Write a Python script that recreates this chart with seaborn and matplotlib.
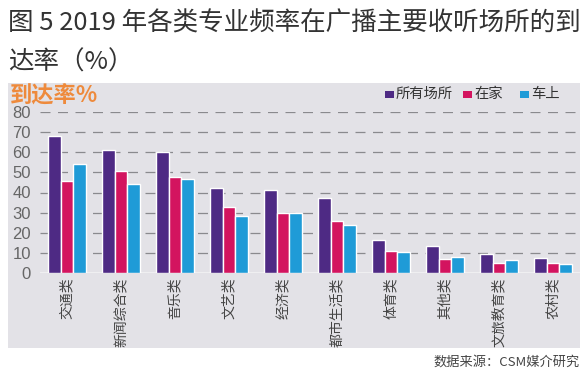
import matplotlib
matplotlib.use("Agg")
import matplotlib.pyplot as plt
import seaborn as sns
import pandas as pd
from matplotlib.patches import Rectangle

categories = ["交通类", "新闻综合类", "音乐类", "文艺类", "经济类", "都市生活类", "体育类", "其他类", "文旅教育类", "农村类"]
series_names = ["所有场所", "在家", "车上"]
all_places = [68.2, 61.2, 60.2, 42.4, 41.0, 37.3, 16.4, 13.6, 9.3, 7.5]
at_home = [45.9, 50.9, 47.9, 33.0, 29.9, 26.0, 11.1, 7.1, 4.8, 5.1]
in_car = [54.2, 44.3, 46.6, 28.5, 30.0, 24.0, 10.4, 8.1, 6.5, 4.6]
yticks = [0, 10, 20, 30, 40, 50, 60, 70, 80]

colors = ["#4E2A84", "#D3145F", "#1F9BD7"]

rows = []
for name, vals in zip(series_names, [all_places, at_home, in_car]):
    for c, v in zip(categories, vals):
        rows.append({"类别": c, "场所": name, "到达率": v})
df = pd.DataFrame(rows)

sns.set_theme(style="white")
plt.rcParams['font.family'] = ['Noto Sans CJK SC', 'DejaVu Sans']

fig = plt.figure(figsize=(5.88, 3.75), dpi=100)
W, H = 588, 375
bg = "#E3E2E7"
fig.patches.append(Rectangle((8 / W, 1 - 348 / H), 572 / W, (348 - 83) / H,
                             transform=fig.transFigure, facecolor=bg, edgecolor="none", zorder=-5))

ax = fig.add_axes([40 / W, 1 - 273 / H, 540 / W, (273 - 112) / H])
ax.set_zorder(2)
ax.set_facecolor("none")
sns.barplot(data=df, x="类别", y="到达率", hue="场所", order=categories, hue_order=series_names,
            palette=colors, width=0.7, gap=0, saturation=1, ax=ax, legend=False, zorder=3)

ax.set_xlim(-0.5, 9.5)
ax.set_ylim(0, 80)
ax.set_yticks(yticks)
ax.set_yticklabels([str(v) for v in yticks], family=["Liberation Sans", "DejaVu Sans"])
for y in yticks[1:]:
    ax.axhline(y, color="#8A8A8E", lw=0.9, ls=(0, (8, 6)), zorder=1)
ax.axhline(0, color="#F2F2F4", lw=1.2, zorder=2)
for s in ax.spines.values():
    s.set_visible(False)
ax.set_xlabel("")
ax.set_ylabel("")
ax.tick_params(axis="y", length=0, pad=6.5, labelsize=12, labelcolor="#666666")
ax.tick_params(axis="x", length=0, pad=3, labelsize=10, labelcolor="#444444")
ax.set_xticks(range(len(categories)))
ax.set_xticklabels(categories, rotation=90, va="top", ha="center")

fig.text(8 / W, 1 - 24 / H, "图 5 2019 年各类专业频率在广播主要收听场所的到", fontsize=18.4,
         color="#333333", va="center", ha="left")
fig.text(8 / W, 1 - 63 / H, "达率（%）", fontsize=18.4, color="#333333", va="center", ha="left")
fig.text(10 / W, 1 - 95 / H, "到达率%", fontsize=16, fontweight="bold", color="#EE8A3C",
         va="center", ha="left", zorder=5)

# legend
leg_items = [(385, "所有场所"), (463, "在家"), (520, "车上")]
for (x, label), col in zip(leg_items, colors):
    fig.patches.append(Rectangle((x / W, 1 - 98 / H), 9 / W, 7 / H, transform=fig.transFigure,
                                 facecolor=col, edgecolor="none", zorder=5))
    fig.text((x + 11) / W, 1 - 94 / H, label, fontsize=10.3, color="#333333", va="center", ha="left",
             zorder=5)

fig.text(580 / W, 1 - 362 / H, "数据来源：CSM媒介研究", fontsize=9.5, color="#444444",
         va="center", ha="right")

fig.savefig("out.png", dpi=100)
